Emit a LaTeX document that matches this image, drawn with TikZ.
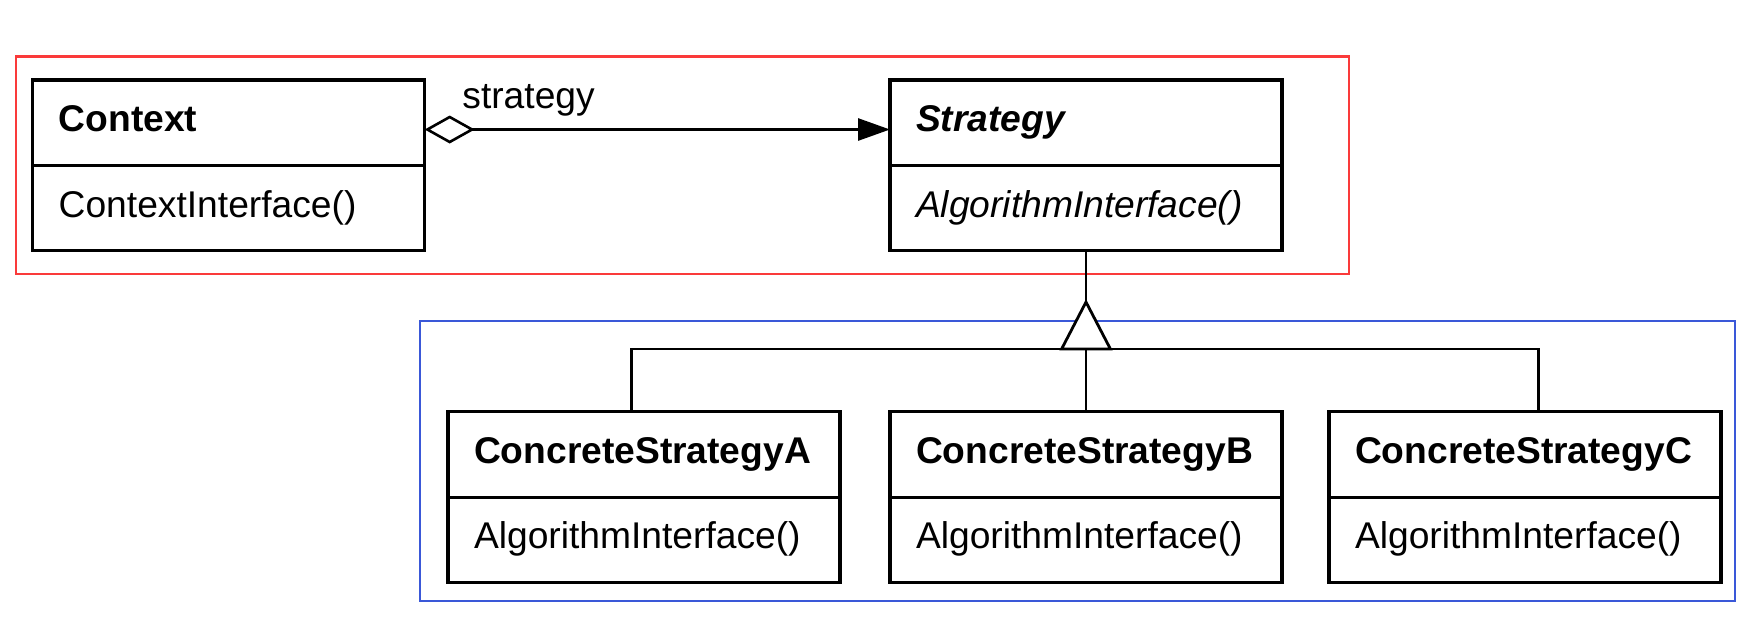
\documentclass[tikz,border=0pt]{standalone}
\usepackage{fontspec}
\setmainfont{Liberation Sans}
\usetikzlibrary{arrows.meta}
\definecolor{frameRed}{RGB}{250,58,58}
\definecolor{frameBlue}{RGB}{58,88,216}
\begin{document}
\begin{tikzpicture}[x=0.5pt,y=-0.5pt,
  umlfont/.style={font=\fontsize{18.6}{20}\selectfont},
  compart/.style={draw, line width=1.6pt, anchor=north west, umlfont,
    minimum height=42.7pt, text width=170pt, inner xsep=13pt, inner ysep=0pt,
    outer sep=0pt, text height=13pt, text depth=4pt, align=left},
  conn/.style={line width=1.4pt},
  assoc/.style={conn,
    {Diamond[open, length=25pt, width=14pt, line width=1.3pt]}-{Triangle[length=16pt, width=11pt]}},
  frame/.style={line width=1.2pt}]
\useasboundingbox (0,0) rectangle (1762,639);

% group frames
\draw[frame, frameRed] (16,56.5) rectangle (1349,274);
\draw[frame, frameBlue] (420,321) rectangle (1735,601);

% Context
\node[compart] (ctxH) at (32.7,80) {\textbf{Context}};
\node[compart, anchor=north] (ctxB) at (ctxH.south) {ContextInterface()};

% Strategy (abstract)
\node[compart] (strH) at (890,80) {\textbf{\textit{Strategy}}};
\node[compart, anchor=north] (strB) at (strH.south) {\textit{AlgorithmInterface()}};

% concrete strategies
\node[compart] (aH) at (448,411.7) {\textbf{ConcreteStrategyA}};
\node[compart, anchor=north] (aB) at (aH.south) {AlgorithmInterface()};
\node[compart] (bH) at (890,411.7) {\textbf{ConcreteStrategyB}};
\node[compart, anchor=north] (bB) at (bH.south) {AlgorithmInterface()};
\node[compart] (cH) at (1329,411.7) {\textbf{ConcreteStrategyC}};
\node[compart, anchor=north] (cB) at (cH.south) {AlgorithmInterface()};

% aggregation Context -> Strategy
\draw[assoc] ([yshift=-3.4pt]ctxH.east) -- ([yshift=-3.4pt]strH.west);
\node[umlfont, anchor=base west, inner sep=0pt] (role) at (462,108.5) {strategy};

% generalization
\coordinate (j) at (bH.north |- 0,349);
\coordinate (apex) at ([yshift=23.5pt]j);
\draw[conn] ([xshift=-6.25pt]aH.north) |- (j) -| ([xshift=6.7pt]cH.north);
\draw[conn] (bH.north) -- (j);
\draw[conn] (strB.south) -- (apex);
\draw[conn, fill=white, line join=miter] ([xshift=-12.2pt]j) -- (apex) -- ([xshift=12.2pt]j) -- cycle;
\end{tikzpicture}
\end{document}
